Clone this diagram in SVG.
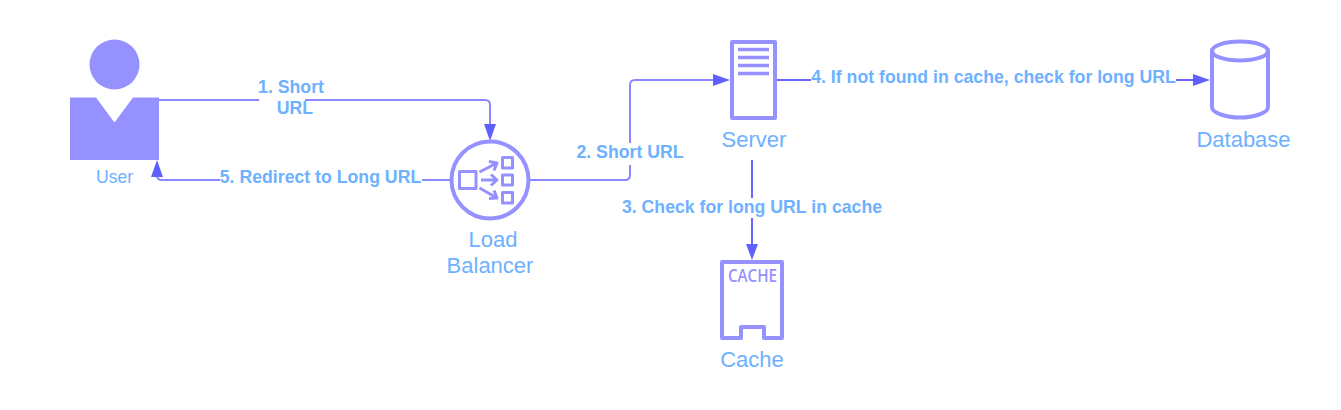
<svg xmlns="http://www.w3.org/2000/svg" width="1341" height="410" viewBox="0 0 1341 410">
<style>
.ln{fill:none;stroke:#8a87ff;stroke-width:2}
.ds{fill:none;stroke:#6a66ff;stroke-width:2}
.ic{fill:none;stroke:#9592ff;stroke-width:4;stroke-linejoin:round}
.ic2{fill:none;stroke:#9592ff;stroke-width:3;stroke-linejoin:round}
.lb{font-family:"Liberation Sans",Arial,sans-serif;fill:#6db1ff;font-size:22px;text-anchor:middle}
.el{font-family:"Liberation Sans",Arial,sans-serif;fill:#6db1ff;font-size:17.700px;font-weight:bold;text-anchor:middle}
.ah{fill:#6060ff}
</style>
<rect width="1341" height="410" fill="#ffffff"/>
<g id="connectors">
<path class="ln" d="M159 100H259M305 100H485Q490 100 490 105V125"/>
<path class="ah" d="M484 124H496L490 141Z"/>
<path class="ln" d="M450 180H422M220 180H162Q157 180 157 175V176"/>
<path class="ah" d="M151 177H163L157 160Z"/>
<path class="ln" d="M528 180H625Q630 180 630 175V165M630 143V85Q630 80 635 80H715"/>
<path class="ah" d="M713 74L730 80L713 86Z"/>
<path class="ds" d="M777 80H811M1176 80H1195"/>
<path class="ah" d="M1193 74L1210 80L1193 86Z"/>
<path class="ds" d="M752 160V198M752 218V246"/>
<path class="ah" d="M746 244H758L752 260Z"/>
</g>
<g id="user">
<circle cx="114.500" cy="64.500" r="25" fill="#9592ff"/>
<path fill="#9592ff" d="M70 97.500H96L114.500 122.500L133 97.500H159V160H70Z"/>
<text class="lb" style="font-size:17.600px" x="114.500" y="183">User</text>
</g>
<g id="load-balancer">
<circle class="ic" cx="490" cy="180" r="38.500" fill="#ffffff"/>
<rect class="ic2" x="459.500" y="171.500" width="16.500" height="17"/>
<rect class="ic2" x="502.500" y="157.500" width="10" height="10.500"/>
<rect class="ic2" x="502.500" y="175" width="10" height="10"/>
<rect class="ic2" x="502.500" y="192.500" width="10" height="10.500"/>
<path class="ic2" d="M479.500 172L497 163M489 161.500L497 163L494 170.500M481 180H497M491 174.500L497 180L491 185.500M479.500 188L497 198M489 198.500L497 198L494 190.500"/>
<text class="lb" x="493" y="247">Load</text>
<text class="lb" x="490" y="273">Balancer</text>
</g>
<g id="server">
<rect class="ic" x="732" y="42" width="43" height="76" fill="#ffffff"/>
<path fill="none" stroke="#9592ff" stroke-width="3.500" d="M738 49.500H769M738 57.500H769M738 65.500H769M738 73.500H769"/>
<text class="lb" x="754" y="147">Server</text>
</g>
<g id="cache">
<path class="ic" d="M722 262H782V338H764V327H741V338H722Z" fill="#ffffff"/>
<text x="752.500" y="282" textLength="49" lengthAdjust="spacingAndGlyphs" style="font-family:'Open Sans','Noto Sans',sans-serif;font-size:18px;font-weight:600;fill:#9592ff;text-anchor:middle">CACHE</text>
<text class="lb" x="752" y="367">Cache</text>
</g>
<g id="database">
<path class="ic" d="M1212 51V107C1212 113 1226 117.500 1240 117.500C1254 117.500 1268 113 1268 107V51" fill="#ffffff"/>
<ellipse class="ic" cx="1240" cy="51" rx="28" ry="9.500" fill="#ffffff"/>
<text class="lb" x="1243.500" y="147">Database</text>
</g>
<g id="edge-labels">
<text class="el" x="291" y="93">1. Short</text>
<text class="el" x="295" y="114">URL</text>
<text class="el" x="320.500" y="183">5. Redirect to Long URL</text>
<text class="el" x="630" y="158">2. Short URL</text>
<text class="el" x="752" y="213">3. Check for long URL in cache</text>
<text class="el" x="993.500" y="83">4. If not found in cache, check for long URL</text>
</g>
</svg>
